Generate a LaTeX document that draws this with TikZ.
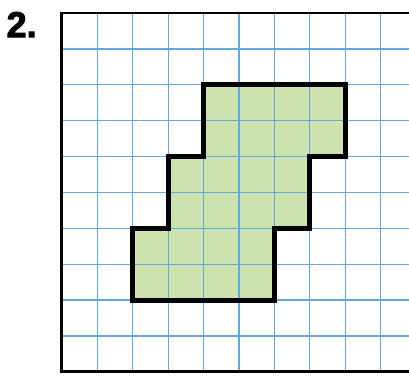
\documentclass[tikz,border=0pt]{standalone}
\usepackage{fontspec}
\setsansfont{Liberation Sans}
\newfontfamily\numfont[FakeBold=2.5]{Liberation Sans Bold}
\definecolor{gridblue}{RGB}{95,170,225}
\definecolor{areagreen}{RGB}{205,228,175}
\tikzset{
    grid line/.style={draw=gridblue, line width=1.1pt},
    region fill/.style={fill=areagreen},
    region edge/.style={draw=black, line width=3.8pt, line join=miter},
    sheet border/.style={draw=black, line width=2.4pt}
}

\begin{document}
\begin{tikzpicture}
\useasboundingbox (0,0) rectangle (11.554,-10.706);
\node[anchor=north west, inner sep=0pt, font=\numfont\fontsize{29}{29}\selectfont] (num) at (0.18,-0.33) {2.};

\begin{scope}[shift={(1.751,-0.367)}, yscale=-1.014]
    \fill[region fill] (4,2) -- (8,2) -- (8,4) -- (7,4) -- (7,6) -- (6,6) -- (6,8)
        -- (2,8) -- (2,6) -- (3,6) -- (3,4) -- (4,4) -- cycle;
    % squared paper
    \foreach \i in {1,...,9}
        \draw[grid line] (\i,0) -- (\i,10);
    \foreach \j in {1,...,9}
        \draw[grid line] (0,\j) -- (9.85,\j);
    \draw[region edge] (4,2) -- (8,2) -- (8,4) -- (7,4) -- (7,6) -- (6,6) -- (6,8)
        -- (2,8) -- (2,6) -- (3,6) -- (3,4) -- (4,4) -- cycle;
    \draw[sheet border] (9.9,0) -- (0,0) -- (0,10) -- (9.9,10);
\end{scope}
\end{tikzpicture}
\end{document}
